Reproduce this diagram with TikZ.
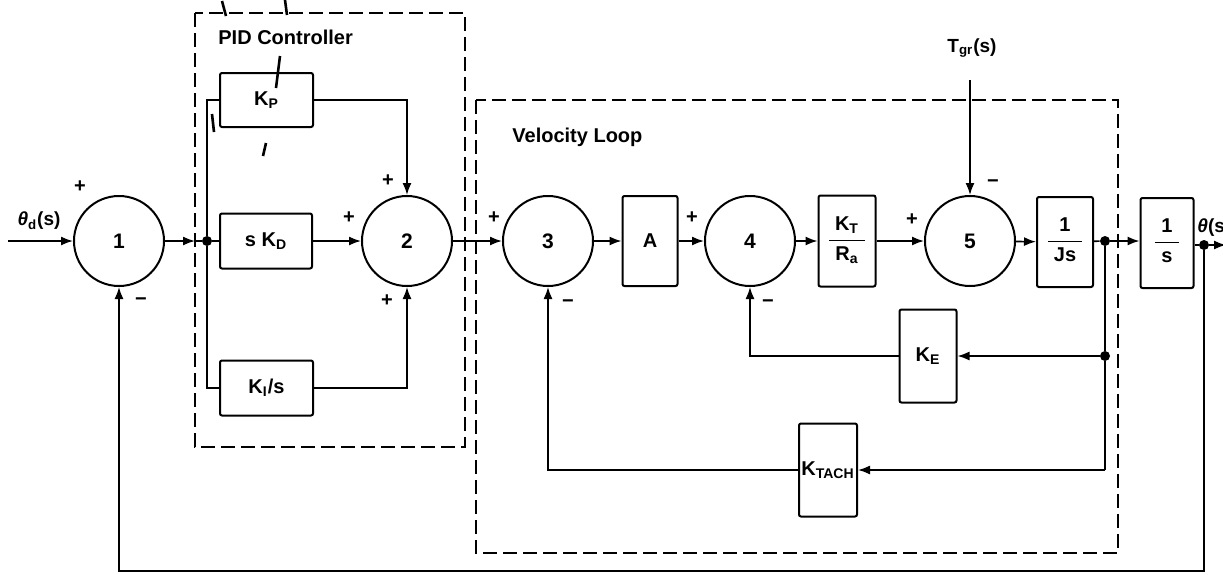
\documentclass[tikz,border=0pt]{standalone}
\usepackage{fontspec}
\setmainfont{Liberation Sans}
\usetikzlibrary{arrows.meta}
\newcommand{\myfr}[2]{\begin{tabular}{@{\hspace{3pt}}c@{\hspace{3pt}}}#1\\[1pt]\hline\rule{0pt}{10pt}#2\end{tabular}}
\begin{document}
\begin{tikzpicture}[x=0.5pt,y=-0.5pt,
  sum/.style={draw,circle,line width=1pt,minimum size=45pt,inner sep=0pt,font=\fontsize{10.5}{12}\selectfont\bfseries},
  blk/.style={draw,line width=1pt,rounded corners=1pt,inner sep=0pt,font=\fontsize{10}{12}\selectfont\bfseries},
  con/.style={line width=0.8pt},
  arr/.style={con,-{Latex[length=6pt,width=4.5pt]}},
  sgn/.style={inner sep=0pt,font=\fontsize{10}{12}\selectfont\bfseries},
  lbl/.style={inner sep=0pt,font=\fontsize{9.5}{11}\selectfont\bfseries},
  ttl/.style={inner sep=0pt,font=\fontsize{10}{12}\selectfont\bfseries},
  dot/.style={circle,fill,inner sep=0pt,minimum size=5pt},
  frame/.style={line width=0.9pt,dash pattern=on 7pt off 3pt},
  penmark/.style={line width=1.3pt}]
\useasboundingbox (0,0) rectangle (1223,574);

% frames
\draw[frame] (195,13) rectangle (465,447);
\draw[frame] (476,100) rectangle (1118,553);
\node[ttl,anchor=west] (pidt) at (218,37) {PID Controller};
\node[ttl,anchor=west] (velt) at (512,137) {Velocity Loop};

% summing junctions
\node[sum] (c1) at (119,241) {1};
\node[sum] (c2) at (407,241) {2};
\node[sum] (c3) at (548,241) {3};
\node[sum] (c4) at (750,241) {4};
\node[sum] (c5) at (970,241) {5};

% blocks
\node[blk,minimum width=46.5pt,minimum height=27pt] (kp) at (266.5,100) {K\textsubscript{P}};
\node[blk,minimum width=46pt,minimum height=27.5pt] (skd) at (266,241) {s K\textsubscript{D}};
\node[blk,minimum width=46.5pt,minimum height=27.5pt] (ki) at (266.5,388) {K\textsubscript{I}/s};
\node[blk,minimum width=27.5pt,minimum height=45pt] (A) at (650,241) {A};
\node[blk,minimum width=28.5pt,minimum height=45.5pt] (kt) at (847,241) {\myfr{K\textsubscript{T}}{R\textsubscript{a}}};
\node[blk,minimum width=28pt,minimum height=45pt] (js) at (1065,242) {\myfr{1}{Js}};
\node[blk,minimum width=26.5pt,minimum height=45pt] (s1) at (1167,243) {\myfr{1}{s}};
\node[blk,minimum width=28.5pt,minimum height=46.5pt] (ke) at (928,356) {K\textsubscript{E}};
\node[blk,minimum width=29pt,minimum height=46.5pt] (ktach) at (828,470) {K\textsubscript{TACH}};

% junction points
\node[dot] (j1) at (207,241) {};
\node[dot] (jn) at (1105,241) {};
\node[dot] (kd) at (1105,356) {};
\node[dot] (out) at (1204,245) {};
\coordinate (kb) at (1105,470);
\coordinate (in) at (8,241);
\coordinate (pl) at (195,241);
\coordinate (oe) at (1226,245);
\coordinate (bl) at (119,571);
\coordinate (ts) at (970,80);

% labels
\node[lbl] (thd) at (39,221) {{\itshape θ}\textsubscript{d}(s)};
\node[lbl,anchor=west] (tho) at (1197,228) {{\itshape θ}(s)};
\node[lbl] (tg) at (972,48) {T\textsubscript{gr}(s)};

% signs
\node[sgn] (s1p) at (80,187) {+};
\node[sgn] (s1m) at (141,302) {\textminus};
\node[sgn] (s2a) at (388,181) {+};
\node[sgn] (s2b) at (349,218) {+};
\node[sgn] (s2c) at (387,301) {+};
\node[sgn] (s3p) at (494,218) {+};
\node[sgn] (s3m) at (568,304) {\textminus};
\node[sgn] (s4p) at (692,218) {+};
\node[sgn] (s4m) at (768,304) {\textminus};
\node[sgn] (s5p) at (912,220) {+};
\node[sgn] (s5m) at (993,184) {\textminus};

% connectors
\draw[arr] (in) -- (c1);
\draw[arr] (c1) -- (pl);
\draw[con] (pl) -- (j1);
\draw[con] (j1) -- (skd);
\draw[arr] (skd) -- (c2);
\draw[con] (j1) |- (kp.west);
\draw[con] (j1) |- (ki.west);
\draw[arr] (kp.east) -| (c2);
\draw[arr] (ki.east) -| (c2);
\draw[arr] (c2) -- (c3);
\draw[arr] (c3) -- (A);
\draw[arr] (A) -- (c4);
\draw[arr] (c4) -- (kt);
\draw[arr] (kt) -- (c5);
\draw[arr] (ts) -- (c5);
\draw[arr] (c5) -- (js);
\draw[con] (js) -- (jn);
\draw[arr] (jn) -- (jn -| s1.west);
\draw[con] (s1.east |- out) -- (out);
\draw[arr] (out) -- (oe);
\draw[arr] (out) |- (bl) -- (c1);
\draw[con] (jn) -- (kd);
\draw[con] (kd) -- (kb);
\draw[arr] (kd) -- (ke);
\draw[arr] (kb) -- (ktach);
\draw[arr] (ke) -| (c4);
\draw[arr] (ktach) -| (c3);

% stray pen marks
\draw[penmark] (222,1) -- (226,16);
\draw[penmark] (285,0) -- (287,15);
\draw[penmark] (280,56) -- (276,88);
\draw[penmark] (212,114) -- (214,132);
\draw[penmark] (266,143) -- (263,156);
\end{tikzpicture}
\end{document}
